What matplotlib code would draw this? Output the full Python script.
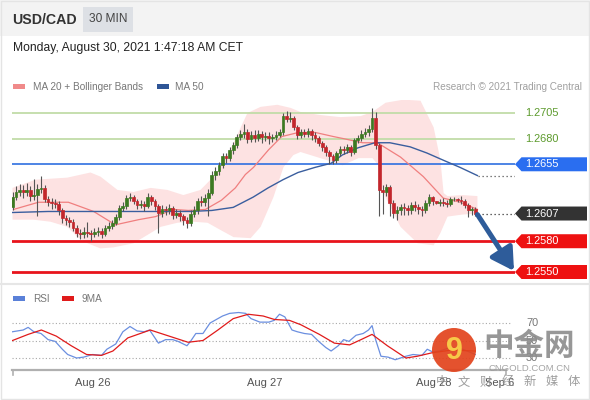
import numpy as np
import matplotlib
matplotlib.use('Agg')
import matplotlib.pyplot as plt
from matplotlib.patches import Rectangle, Polygon, Circle

plt.rcParams['font.family'] = ['Liberation Sans', 'DejaVu Sans']

# ---------------- data ----------------
first_open = 1.2613
closes = [1.2623, 1.2628, 1.2630, 1.2628, 1.2630, 1.2624, 1.2625, 1.2631, 1.2632, 1.2621,
          1.2618, 1.2617, 1.2616, 1.2610, 1.2603, 1.2601, 1.2599, 1.2593, 1.2588, 1.2587,
          1.2589, 1.2588, 1.2587, 1.2589, 1.2590, 1.2587, 1.2593, 1.2595, 1.2598, 1.2604,
          1.2612, 1.2614, 1.2622, 1.2623, 1.2619, 1.2615, 1.2616, 1.2614, 1.2623, 1.2619,
          1.2614, 1.2608, 1.2611, 1.2610, 1.2612, 1.2606, 1.2608, 1.2605, 1.2601, 1.2598,
          1.2607, 1.2610, 1.2619, 1.2618, 1.2622, 1.2627, 1.2645, 1.2648, 1.2654, 1.2663,
          1.2661, 1.2669, 1.2674, 1.2682, 1.2685, 1.2686, 1.2680, 1.2684, 1.2681, 1.2685,
          1.2682, 1.2683, 1.2681, 1.2682, 1.2684, 1.2686, 1.2702, 1.2699, 1.2700, 1.2691,
          1.2684, 1.2686, 1.2685, 1.2687, 1.2684, 1.2681, 1.2676, 1.2672, 1.2667, 1.2663,
          1.2659, 1.2666, 1.2670, 1.2669, 1.2672, 1.2667, 1.2679, 1.2681, 1.2685, 1.2686,
          1.2689, 1.2700, 1.2674, 1.2630, 1.2628, 1.2633, 1.2617, 1.2608, 1.2610, 1.2613,
          1.2612, 1.2610, 1.2615, 1.2613, 1.2611, 1.2610, 1.2617, 1.2623, 1.2619, 1.2617,
          1.2618, 1.2617, 1.2616, 1.2621, 1.2621, 1.2620, 1.2619, 1.2615, 1.2610, 1.2611,
          1.2607]
highs = [1.2628, 1.2634, 1.2636, 1.2635, 1.2637, 1.2634, 1.2641, 1.2636, 1.2644, 1.2635,
         1.2624, 1.2622, 1.2621, 1.2619, 1.2612, 1.2606, 1.2604, 1.2602, 1.2596, 1.2592,
         1.2594, 1.2599, 1.2591, 1.2593, 1.2594, 1.2593, 1.2596, 1.2599, 1.2601, 1.2607,
         1.2615, 1.2618, 1.2625, 1.2627, 1.2625, 1.2621, 1.2620, 1.2619, 1.2627, 1.2625,
         1.2621, 1.2616, 1.2615, 1.2614, 1.2616, 1.2614, 1.2611, 1.2610, 1.2607, 1.2604,
         1.2610, 1.2614, 1.2622, 1.2624, 1.2626, 1.2631, 1.2648, 1.2652, 1.2657, 1.2666,
         1.2666, 1.2672, 1.2677, 1.2685, 1.2688, 1.2694, 1.2689, 1.2687, 1.2688, 1.2688,
         1.2687, 1.2686, 1.2686, 1.2685, 1.2687, 1.2689, 1.2705, 1.2707, 1.2706, 1.2702,
         1.2693, 1.2689, 1.2689, 1.2690, 1.2689, 1.2686, 1.2683, 1.2678, 1.2674, 1.2669,
         1.2665, 1.2668, 1.2673, 1.2673, 1.2675, 1.2674, 1.2681, 1.2684, 1.2688, 1.2690,
         1.2693, 1.2710, 1.2706, 1.2676, 1.2635, 1.2636, 1.2635, 1.2620, 1.2614, 1.2616,
         1.2617, 1.2615, 1.2618, 1.2619, 1.2616, 1.2614, 1.2620, 1.2626, 1.2624, 1.2619,
         1.2621, 1.2622, 1.2620, 1.2623, 1.2623, 1.2622, 1.2624, 1.2621, 1.2617, 1.2613,
         1.2613]
lows = [1.2610, 1.2620, 1.2624, 1.2622, 1.2624, 1.2619, 1.2620, 1.2605, 1.2627, 1.2618,
        1.2614, 1.2611, 1.2612, 1.2606, 1.2598, 1.2596, 1.2594, 1.2590, 1.2584, 1.2582,
        1.2583, 1.2584, 1.2580, 1.2584, 1.2585, 1.2583, 1.2585, 1.2590, 1.2592, 1.2596,
        1.2601, 1.2609, 1.2611, 1.2619, 1.2616, 1.2611, 1.2612, 1.2609, 1.2612, 1.2615,
        1.2610, 1.2588, 1.2604, 1.2606, 1.2607, 1.2602, 1.2603, 1.2600, 1.2596, 1.2593,
        1.2595, 1.2604, 1.2607, 1.2614, 1.2614, 1.2605, 1.2625, 1.2640, 1.2645, 1.2651,
        1.2656, 1.2658, 1.2665, 1.2671, 1.2679, 1.2681, 1.2676, 1.2677, 1.2677, 1.2678,
        1.2676, 1.2678, 1.2675, 1.2677, 1.2679, 1.2682, 1.2684, 1.2696, 1.2696, 1.2688,
        1.2680, 1.2681, 1.2682, 1.2682, 1.2679, 1.2677, 1.2673, 1.2668, 1.2663, 1.2655,
        1.2655, 1.2656, 1.2663, 1.2665, 1.2666, 1.2663, 1.2665, 1.2676, 1.2678, 1.2682,
        1.2683, 1.2686, 1.2670, 1.2605, 1.2607, 1.2624, 1.2605, 1.2603, 1.2601, 1.2606,
        1.2606, 1.2606, 1.2607, 1.2609, 1.2607, 1.2605, 1.2608, 1.2614, 1.2615, 1.2616,
        1.2614, 1.2614, 1.2613, 1.2614, 1.2619, 1.2618, 1.2616, 1.2612, 1.2604, 1.2606,
        1.2605]
opens = [first_open] + closes[:-1]

# Bollinger bands / moving averages (candle index, price)
bb_upper_idx = [0, 6.5, 15.4, 21.9, 24.7, 29.5, 34, 38.8, 43.5, 48, 52.8, 57.6, 62.1, 66, 69.7,
                74.4, 78.1, 80.9, 86.5, 92.1, 97.8, 101.1, 104.8, 109.8, 114.6, 118.3, 120.2,
                121.1, 122.2, 126.4, 130.6]
bb_upper = [1.2632, 1.2640, 1.2642, 1.2647, 1.2643, 1.2630, 1.2628, 1.2632, 1.2630, 1.2625,
            1.2630, 1.2647, 1.2676, 1.2705, 1.2711, 1.2713, 1.2710, 1.2706, 1.2703, 1.2701,
            1.2702, 1.2706, 1.2715, 1.2718, 1.2717, 1.2691, 1.2659, 1.2627, 1.2624, 1.2625,
            1.2624]
bb_lower_idx = [0, 5.9, 10.7, 15.4, 18.3, 21.1, 24.7, 28.4, 34, 38.8, 41.6, 46.3, 50.8, 54.8,
                58.4, 62.1, 66.9, 69.7, 73.3, 76.1, 78.9, 80.9, 90.2, 92.7, 97.2, 101.1, 102.8,
                104.2, 109, 113.8, 118.3, 120.2, 122.2, 126.4, 130.6]
bb_lower = [1.2601, 1.2601, 1.2599, 1.2594, 1.2584, 1.2578, 1.2573, 1.2574, 1.2578, 1.2588,
            1.2594, 1.2598, 1.2599, 1.2598, 1.2591, 1.2584, 1.2583, 1.2594, 1.2623, 1.2652,
            1.2664, 1.2667, 1.2657, 1.2654, 1.2661, 1.2661, 1.2654, 1.2627, 1.2594, 1.2578,
            1.2576, 1.2588, 1.2604, 1.2606, 1.2607]
ma20_idx = [0.3, 7.3, 15.7, 22.8, 28.9, 35.4, 40.2, 45.2, 49.4, 54.2, 58.7, 62.6, 65.4, 67.7,
            71.9, 75.6, 80.3, 85.1, 90.2, 93, 98.3, 102.5, 109, 115.4, 121, 125.8, 130.6]
ma20 = [1.2611, 1.2618, 1.2618, 1.2609, 1.2596, 1.2601, 1.2604, 1.2611, 1.2610, 1.2611,
        1.2620, 1.2632, 1.2645, 1.2652, 1.2669, 1.2682, 1.2686, 1.2686, 1.2682, 1.2680,
        1.2676, 1.2676, 1.2662, 1.2643, 1.2622, 1.2618, 1.2611]
ma50_idx = [0, 10, 20, 30, 40, 50, 56, 62, 67.6, 71.8, 76, 80.2, 85, 89.5, 92.6, 97, 101.8,
            106, 111.7, 116.4, 121, 125.7, 130.6]
ma50 = [1.2608, 1.2609, 1.2609, 1.2609, 1.2609, 1.2609, 1.2610, 1.2613, 1.2623, 1.2632,
        1.2640, 1.2647, 1.2652, 1.2656, 1.2664, 1.2671, 1.2676, 1.2676, 1.2672, 1.2666,
        1.2659, 1.2652, 1.2644]

# RSI panel (candle index, value)
rsi_idx = [0, 3, 4.4, 6, 8, 10, 12, 14, 15.5, 18, 20, 22.5, 25, 26.5, 29, 31, 33, 35, 37, 38.5,
           41, 43, 45, 46.5, 49, 50, 51.5, 53.5, 55.5, 59, 61, 63.5, 65.5, 67, 69.5, 72, 73.5,
           75, 76.5, 78.5, 80, 82, 84, 86, 88, 89.5, 91.5, 93, 94.5, 96.5, 98.5, 100, 101, 102,
           103.5, 105.5, 107.5, 109, 110.5, 112.5, 115, 116.5, 118, 120, 123, 126.5, 130]
rsi = [60, 62, 65, 60, 58, 51, 49, 40, 34, 30, 31, 34, 33, 40, 46, 60, 66, 61, 60, 62,
       47, 51, 51, 49, 44, 49, 58, 58, 70, 78, 81, 82, 81, 75, 71, 71, 73,
       80, 77, 62, 60, 58, 57, 49, 42, 38, 44, 51, 49, 56, 58, 62, 67, 51,
       32, 31, 28, 30, 32, 34, 33, 40, 37, 38, 42, 40, 34]
ma9_idx = [0, 4.4, 8.1, 12.3, 16.5, 20.8, 25, 28.2, 32.4, 38.7, 44, 49.3, 53.5, 57.7, 62, 66.2,
           70.4, 73.6, 77.8, 81, 86.2, 90.4, 94.7, 97.9, 101, 105.3, 110.5, 113.7, 117.9,
           123.2, 130]
ma9 = [50, 57, 62, 55, 44, 34, 33, 38, 53, 62, 55, 48, 50, 62, 75, 80, 78, 74, 73, 68, 57, 47,
       45, 51, 57, 44, 30, 32, 36, 39, 38]

resistances = [1.2705, 1.2680]
pivot = 1.2655
supports = [1.2580, 1.2550]
rsi_levels = [70, 50, 30]

tick_pos = [22.6, 70.9, 118.4, 136.9]
tick_labels = ['Aug 26', 'Aug 27', 'Aug 28', 'Sep 6']

watermark_sub = ['中', '文', '财', '经', '新', '媒', '体']

# ---------------- layout ----------------
W, H = 590, 400
fig = plt.figure(figsize=(W / 100, H / 100), dpi=100)
fig.patch.set_facecolor('white')


def rect(x0, y0, x1, y1):
    return [x0 / W, 1 - y1 / H, (x1 - x0) / W, (y1 - y0) / H]


def idx_of_px(x):
    return (x - 12.5) / 3.56


bg = fig.add_axes([0, 0, 1, 1], zorder=0)
bg.set_xlim(0, W); bg.set_ylim(H, 0); bg.axis('off')
bg.add_patch(Rectangle((0, 0), W, 36, color='#f3f3f3', lw=0))
bg.add_patch(Rectangle((0.5, 0.5), W - 1.5, H - 1.5, fill=False, ec='#e4e4e4', lw=1))
bg.plot([0, W], [284, 284], color='#e6e6e6', lw=1.5)
bg.add_patch(Rectangle((83, 7), 50, 25, color='#dde0e5', lw=0))
bg.text(12, 19.5, 'USD/CAD', fontsize=10.2, fontweight='bold', color='#333333', va='center')
bg.text(108, 19.5, '30 MIN', fontsize=8.6, color='#444444', va='center', ha='center')
bg.text(13, 48, 'Monday, August 30, 2021 1:47:18 AM CET', fontsize=8.7, color='#222222', va='center')
bg.add_patch(Rectangle((13, 84), 12, 5, color='#f08a8a', lw=0))
bg.text(33, 86.5, 'MA 20 + Bollinger Bands', fontsize=7.2, color='#777777', va='center')
bg.add_patch(Rectangle((157, 84), 12, 5, color='#2e5596', lw=0))
bg.text(175, 86.5, 'MA 50', fontsize=7.2, color='#777777', va='center')
bg.text(582, 86.5, 'Research \u00a9 2021 Trading Central', fontsize=7.2, color='#a0a0a0',
        va='center', ha='right')
bg.add_patch(Rectangle((13, 296), 12, 5, color='#5a80d8', lw=0))
bg.text(33, 298.5, 'RSI', fontsize=7.2, color='#777777', va='center')
bg.add_patch(Rectangle((62, 296), 12, 5, color='#e01b1b', lw=0))
bg.text(82, 298.5, '9MA', fontsize=7.2, color='#777777', va='center')

# ---------------- main price axes ----------------
ax = fig.add_axes(rect(12, 100, 515, 283), zorder=1)
ax.patch.set_alpha(0)
ax.axis('off')
ax.set_xlim(idx_of_px(12), idx_of_px(515))
ax.set_ylim(1.2705 - 170 / 10258, 1.2705 + 13 / 10258)

bx = list(bb_upper_idx) + list(bb_lower_idx)[::-1]
by = list(bb_upper) + list(bb_lower)[::-1]
ax.fill(bx, by, color='#fde2e2', lw=0, zorder=1)

for lv in resistances:
    ax.axhline(lv, color='#c2dca8', lw=1.3, zorder=2)
ax.axhline(pivot, color='#2f6fe0', lw=1.2, zorder=2)
for lv in supports:
    ax.axhline(lv, color='#e8141c', lw=2.0, zorder=2)

ax.plot(ma20_idx, ma20, color='#f07f7f', lw=0.9, zorder=3)
ax.plot(ma50_idx, ma50, color='#3a5e9e', lw=1.0, zorder=3)

x = np.arange(len(closes))
o = np.array(opens); c = np.array(closes)
up = c >= o
ax.vlines(x, lows, highs, color='#555555', lw=0.8, zorder=4)
col = np.where(up, '#3d7a22', '#c3262c')
ax.bar(x, c - o, bottom=o, width=0.78, color=col, edgecolor=col, lw=0.5, zorder=5)

last = closes[-1]
xend = idx_of_px(515)
ax.plot([x[-1] + 0.8, xend], [last, last], color='#333333', lw=0.9, ls=(0, (1, 2.2)), zorder=3)
ax.plot([x[-1] + 0.8, xend], [ma50[-1], ma50[-1]], color='#555555', lw=0.9, ls=(0, (1, 2.2)), zorder=3)

ax.annotate('', xy=(idx_of_px(514), supports[1] + 0.0001), xytext=(x[-1] + 0.6, last - 0.0001),
            arrowprops=dict(arrowstyle='-|>,head_width=0.55,head_length=0.95', lw=3.6,
                            color='#2e5c9a', shrinkA=0, shrinkB=0, mutation_scale=14),
            annotation_clip=False, zorder=6)

# ---------------- RSI axes ----------------
ax2 = fig.add_axes(rect(12, 305, 515, 370), zorder=1)
ax2.patch.set_alpha(0)
ax2.set_xlim(idx_of_px(12), idx_of_px(515))
ax2.set_ylim(30 - 12 / 0.875, 70 + 18 / 0.875)
for s in ['top', 'right', 'left']:
    ax2.spines[s].set_visible(False)
ax2.spines['bottom'].set_color('#b0b0b0')
ax2.spines['bottom'].set_linewidth(1.6)
ax2.spines['bottom'].set_bounds(idx_of_px(12), idx_of_px(506))
ax2.set_yticks([])
ax2.set_xticks(tick_pos)
ax2.set_xticklabels(tick_labels, fontsize=8, color='#555555')
ax2.tick_params(axis='x', length=0, pad=6)
for lv in rsi_levels:
    ax2.plot([idx_of_px(12), idx_of_px(512)], [lv, lv], color='#a8a8a8', lw=0.8, ls=(0, (1, 2)))
ax2.plot(rsi_idx, rsi, color='#6b8fe0', lw=0.9)
ax2.plot(ma9_idx, ma9, color='#e01b1b', lw=0.9)

# ---------------- overlay (labels, boxes, watermark) ----------------
ov = fig.add_axes([0, 0, 1, 1], zorder=3)
ov.set_xlim(0, W); ov.set_ylim(H, 0); ov.axis('off')
ov.patch.set_alpha(0)


def py(a, v):
    return H - a.transData.transform((0, v))[1]


for lv in resistances:
    ov.text(525, py(ax, lv), f'{lv:.4f}', fontsize=7.9, color='#5c9a2c', va='center')


def box(v, color):
    y = py(ax, v)
    ov.add_patch(Polygon([(515, y), (521.5, y - 7), (587, y - 7), (587, y + 7), (521.5, y + 7)],
                         closed=True, color=color, lw=0))
    ov.text(525, y, f'{v:.4f}', fontsize=7.9, color='white', va='center')


box(pivot, '#2a6ef0')
box(last, '#333333')
for lv in supports:
    box(lv, '#ee1111')

for lv in rsi_levels:
    ov.text(526, py(ax2, lv), str(lv), fontsize=7.9, color='#777777', va='center')
ov.plot([12.5, 12.5], [370, 375], color='#b0b0b0', lw=1.2)
ov.plot([506, 506], [370, 375], color='#b0b0b0', lw=1.2)

# watermark
ov.add_patch(Circle((454, 350), 22, color='#e2431c', alpha=0.92, lw=0))
ov.text(454, 351, '9', fontsize=22, fontweight='bold', color='#f7c948', ha='center', va='center')
ov.text(529, 346, '中金网', fontsize=22, fontweight='bold', color='#8c8c8c', alpha=0.9,
        ha='center', va='center', family=['Noto Sans CJK SC'])
ov.text(529, 368.5, 'CNGOLD.COM.CN', fontsize=6.8, color='#9a9a9a', alpha=0.9,
        ha='center', va='center')
for k, ch in enumerate(watermark_sub):
    ov.text(442 + 22 * k, 382, ch, fontsize=8.8, color='#8c8c8c', alpha=0.85,
            ha='center', va='center', family=['Noto Sans CJK SC'])

fig.savefig('out.png', dpi=100, facecolor='white')
